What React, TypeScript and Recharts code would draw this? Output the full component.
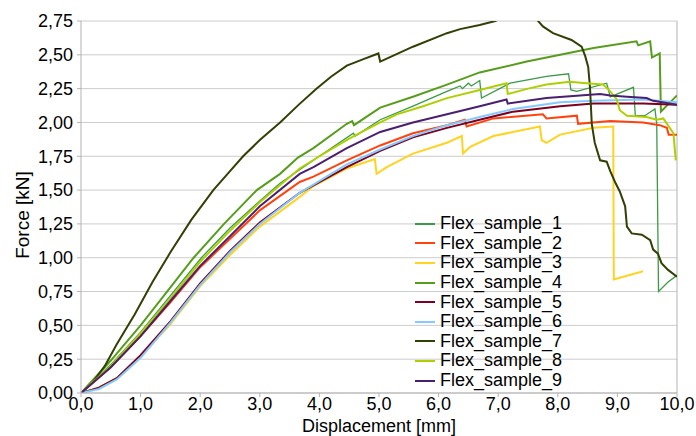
import { CartesianGrid, Label, Legend, Line, LineChart, ReferenceLine, XAxis, YAxis } from "recharts";

const xTicks = [0, 1, 2, 3, 4, 5, 6, 7, 8, 9, 10];
const yTicks = [0, 0.25, 0.5, 0.75, 1, 1.25, 1.5, 1.75, 2, 2.25, 2.5, 2.75];

const names = [
  "Flex_sample_1", "Flex_sample_2", "Flex_sample_3", "Flex_sample_4", "Flex_sample_5",
  "Flex_sample_6", "Flex_sample_7", "Flex_sample_8", "Flex_sample_9",
];
const colors = ["#3a9a45", "#ff420e", "#ffd320", "#579d1c", "#7e0021", "#83caff", "#314004", "#aecf00", "#4b1f6f"];

// [displacement mm, force kN]
const sample1: [number, number][] = [
  [0, 0], [0.5, 0.21], [1, 0.45], [1.5, 0.72], [2.02, 1.0], [2.5, 1.22], [3, 1.42], [3.34, 1.55], [3.9, 1.72],
  [4.57, 1.92], [4.6, 1.9], [5.02, 2.02], [5.57, 2.12], [6.14, 2.23], [6.36, 2.27], [6.4, 2.25], [6.5, 2.29],
  [6.55, 2.27], [6.69, 2.31], [6.72, 2.18], [7.2, 2.29], [7.81, 2.34], [8.18, 2.36], [8.22, 2.24], [8.32, 2.23],
  [8.82, 2.29], [8.88, 2.19], [9.27, 2.26], [9.3, 2.05], [9.46, 2.05], [9.63, 2.1], [9.66, 1.99], [9.69, 0.75],
  [9.85, 0.82], [10, 0.87],
];
const sample2: [number, number][] = [
  [0, 0], [0.5, 0.19], [1, 0.42], [1.5, 0.67], [2, 0.93], [2.5, 1.14], [3, 1.35], [3.67, 1.56], [3.9, 1.6],
  [4.46, 1.72], [5.02, 1.83], [5.57, 1.92], [6.14, 1.98], [6.44, 2.02], [6.47, 1.97], [6.92, 2.03], [7.75, 2.06],
  [7.81, 2.03], [8.32, 2.05], [8.34, 1.99], [8.88, 2.01], [9.43, 2.0], [9.71, 1.98], [9.83, 1.96], [9.86, 1.91],
  [10, 1.91],
];
const sample3: [number, number][] = [
  [0, 0], [0.3, 0.04], [0.6, 0.11], [1, 0.27], [1.5, 0.51], [2, 0.79], [2.5, 1.02], [3, 1.23], [3.67, 1.45],
  [3.9, 1.53], [4.46, 1.66], [4.93, 1.73], [4.96, 1.62], [5.13, 1.67], [5.57, 1.77], [6.14, 1.85], [6.39, 1.9],
  [6.41, 1.77], [6.53, 1.82], [6.92, 1.9], [7.7, 1.97], [7.73, 1.87], [7.81, 1.85], [8.04, 1.91], [8.6, 1.96],
  [8.93, 1.97], [8.94, 0.84], [9.43, 0.9],
];
const sample4: [number, number][] = [
  [0, 0], [0.5, 0.24], [1, 0.5], [1.5, 0.78], [1.89, 1.0], [2.4, 1.25], [2.95, 1.5], [3.34, 1.62], [3.64, 1.74],
  [3.9, 1.81], [4.46, 1.99], [4.55, 2.01], [4.58, 1.98], [5.02, 2.11], [5.57, 2.19], [6.14, 2.28], [6.69, 2.37],
  [7.48, 2.45], [8.04, 2.5], [8.6, 2.55], [9.32, 2.6], [9.35, 2.57], [9.55, 2.6], [9.58, 2.48], [9.71, 2.51],
  [9.73, 2.08], [10, 2.2],
];
const sample5: [number, number][] = [
  [0, 0], [0.3, 0.04], [0.6, 0.11], [1, 0.28], [1.5, 0.53], [2, 0.81], [2.5, 1.05], [3, 1.26], [3.67, 1.48],
  [4.46, 1.67], [5.02, 1.79], [5.57, 1.89], [6.14, 1.96], [6.69, 2.02], [7.25, 2.08], [8.04, 2.12], [8.6, 2.14],
  [9.43, 2.14], [10, 2.13],
];
const sample6: [number, number][] = [
  [0, 0], [0.3, 0.03], [0.6, 0.1], [1, 0.26], [1.5, 0.52], [2, 0.8], [2.5, 1.04], [3, 1.25], [3.67, 1.48],
  [4.46, 1.69], [5.02, 1.8], [5.57, 1.9], [6.14, 1.98], [6.69, 2.04], [7.25, 2.1], [8.04, 2.15], [8.6, 2.16],
  [9.43, 2.17], [10, 2.15],
];
const sample7: [number, number][] = [
  [0, 0], [0.2, 0.08], [0.4, 0.2], [0.6, 0.36], [0.9, 0.58], [1.2, 0.82], [1.5, 1.04], [1.85, 1.28], [2.22, 1.5],
  [2.5, 1.64], [2.72, 1.75], [3, 1.87], [3.34, 2.0], [3.65, 2.13], [3.95, 2.25], [4.2, 2.34], [4.46, 2.42],
  [4.75, 2.47], [4.99, 2.51], [5.02, 2.45], [5.57, 2.56], [6.14, 2.66], [6.36, 2.69], [6.69, 2.72], [6.95, 2.75],
  [7.2, 2.8], [7.45, 2.82], [7.65, 2.76], [7.75, 2.71], [7.92, 2.66], [8.23, 2.61], [8.4, 2.56], [8.46, 2.49],
  [8.51, 2.41], [8.54, 2.26], [8.57, 1.99], [8.62, 1.85], [8.71, 1.72], [8.82, 1.71], [8.88, 1.64], [8.96, 1.56],
  [9.04, 1.49], [9.13, 1.38], [9.16, 1.23], [9.24, 1.18], [9.41, 1.17], [9.55, 1.13], [9.6, 1.06], [9.68, 1.03],
  [9.74, 0.96], [9.85, 0.91], [10, 0.86],
];
const sample8: [number, number][] = [
  [0, 0], [0.5, 0.2], [1, 0.44], [1.5, 0.7], [2, 0.97], [2.5, 1.2], [3, 1.41], [3.67, 1.66], [4, 1.75],
  [4.5, 1.88], [5.02, 2.0], [5.3, 2.06], [5.74, 2.12], [6.14, 2.18], [6.69, 2.24], [7.14, 2.29], [7.16, 2.21],
  [7.5, 2.25], [7.81, 2.28], [8.2, 2.3], [8.48, 2.29], [8.76, 2.28], [8.88, 2.23], [8.99, 2.17], [9.04, 2.09],
  [9.16, 2.05], [9.49, 2.04], [9.66, 2.02], [9.77, 2.03], [9.94, 1.92], [9.98, 1.72],
];
const sample9: [number, number][] = [
  [0, 0], [0.5, 0.19], [1, 0.42], [1.5, 0.68], [2, 0.94], [2.5, 1.16], [3, 1.38], [3.67, 1.62], [3.9, 1.67],
  [4.46, 1.81], [5.02, 1.93], [5.57, 2.0], [6.14, 2.06], [6.69, 2.12], [7.14, 2.17], [7.16, 2.14], [7.81, 2.18],
  [8.71, 2.21], [8.88, 2.2], [9.16, 2.19], [9.49, 2.18], [9.6, 2.16], [10, 2.13],
];

const samples = [sample1, sample2, sample3, sample4, sample5, sample6, sample7, sample8, sample9];
const series = samples.map((pts, i) => ({
  name: names[i],
  color: colors[i],
  data: pts.map(([x, y]) => ({ x, y })),
}));

const font = "'Liberation Sans', Arial, sans-serif";
const axisGray = "#b3b3b3";

function LegendBox() {
  return (
    <div style={{ fontFamily: font, fontSize: 18, color: "#000" }}>
      {series.map((s) => (
        <div key={s.name} style={{ display: "flex", alignItems: "center", height: 19.6 }}>
          <span style={{ display: "inline-block", width: 20, height: 2, background: s.color, marginRight: 5 }} />
          <span>{s.name}</span>
        </div>
      ))}
    </div>
  );
}

export default function App() {
  return (
    <div style={{ position: "absolute", left: 0, top: 0, width: 696, height: 436, background: "#fff" }}>
      <LineChart width={696} height={436} margin={{ top: 21, right: 19, bottom: 0, left: 0 }}>
        <CartesianGrid vertical={false} stroke="#cccccc" />
        <XAxis
          type="number"
          dataKey="x"
          domain={[0, 10]}
          ticks={xTicks}
          allowDataOverflow
          height={43}
          stroke={axisGray}
          tickSize={4}
          tickMargin={0}
          tick={{ fill: "#000", fontSize: 18, fontFamily: font }}
          tickFormatter={(v: number) => v.toFixed(1).replace(".", ",")}
        >
          <Label
            content={({ viewBox }: any) => (
              <text x={viewBox.x + viewBox.width / 2} y={viewBox.y + 38.5} textAnchor="middle" fontSize={18} fontFamily={font} fill="#000">
                Displacement [mm]
              </text>
            )}
          />
        </XAxis>
        <YAxis
          type="number"
          domain={[0, 2.75]}
          ticks={yTicks}
          allowDataOverflow
          width={81}
          stroke={axisGray}
          tickSize={4}
          tickMargin={4}
          tick={{ fill: "#000", fontSize: 18, fontFamily: font }}
          tickFormatter={(v: number) => v.toFixed(2).replace(".", ",")}
        >
          <Label
            content={({ viewBox }: any) => {
              const cx = viewBox.x + 22;
              const cy = viewBox.y + viewBox.height / 2 + 8;
              return (
                <text x={cx} y={cy} transform={`rotate(-90 ${cx} ${cy})`} textAnchor="middle" dominantBaseline="central" fontSize={19} fontFamily={font} fill="#000">
                  Force [kN]
                </text>
              );
            }}
          />
        </YAxis>
        <ReferenceLine x={10} stroke={axisGray} />
        {series.map((s, i) => (
          <Line
            key={s.name}
            data={s.data}
            dataKey="y"
            name={s.name}
            type="linear"
            stroke={s.color}
            strokeWidth={i === 0 ? 1.3 : 2}
            dot={false}
            isAnimationActive={false}
          />
        ))}
        <Legend
          layout="vertical"
          align="center"
          verticalAlign="middle"
          content={() => <LegendBox />}
          wrapperStyle={{ position: "absolute", left: 415, top: 214, width: 200 }}
        />
      </LineChart>
    </div>
  );
}
